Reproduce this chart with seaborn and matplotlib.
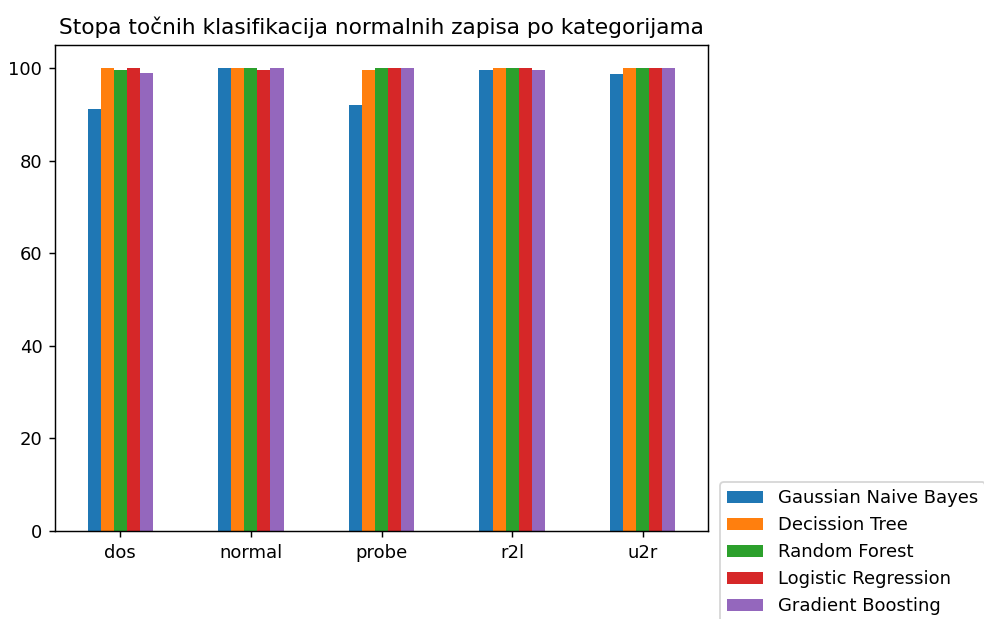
import pandas as pd
import seaborn as sns
import matplotlib.pyplot as plt

# categories and per-model accuracy (%)
categories = ["dos", "normal", "probe", "r2l", "u2r"]
models = ["Gaussian Naive Bayes", "Decission Tree", "Random Forest",
          "Logistic Regression", "Gradient Boosting"]

gaussian_nb = [91.1, 100.0, 92.1, 99.7, 98.7]
decision_tree = [100.0, 100.0, 99.7, 100.0, 100.0]
random_forest = [99.7, 100.0, 100.0, 100.0, 100.0]
logistic_reg = [100.0, 99.7, 100.0, 100.0, 100.0]
gradient_boost = [99.0, 100.0, 100.0, 99.7, 100.0]

series = [gaussian_nb, decision_tree, random_forest, logistic_reg, gradient_boost]

# long format table for seaborn
rows = []
for model, values in zip(models, series):
    for cat, val in zip(categories, values):
        rows.append({"kategorija": cat, "model": model, "tocnost": val})
df = pd.DataFrame(rows)

dpi = 130
fig = plt.figure(figsize=(984 / dpi, 619 / dpi), dpi=dpi)
ax = fig.add_axes([55 / 984, 1 - 531 / 619, (708 - 55) / 984, (531 - 45) / 619])

sns.barplot(data=df, x="kategorija", y="tocnost", hue="model",
            order=categories, hue_order=models, palette="tab10",
            saturation=1, width=0.5, errorbar=None, linewidth=0, ax=ax)

ax.set_title("Stopa točnih klasifikacija normalnih zapisa po kategorijama")
ax.set_xlabel("")
ax.set_ylabel("")
ax.set_xlim(-0.5, 4.5)
ax.set_ylim(0, 105)

handles, labels = ax.get_legend_handles_labels()
ax.legend(handles, labels, loc="upper left",
          bbox_to_anchor=(720 / 984, 1 - 482 / 619),
          bbox_transform=fig.transFigure, borderaxespad=0)

fig.savefig("out.png", dpi=dpi)
